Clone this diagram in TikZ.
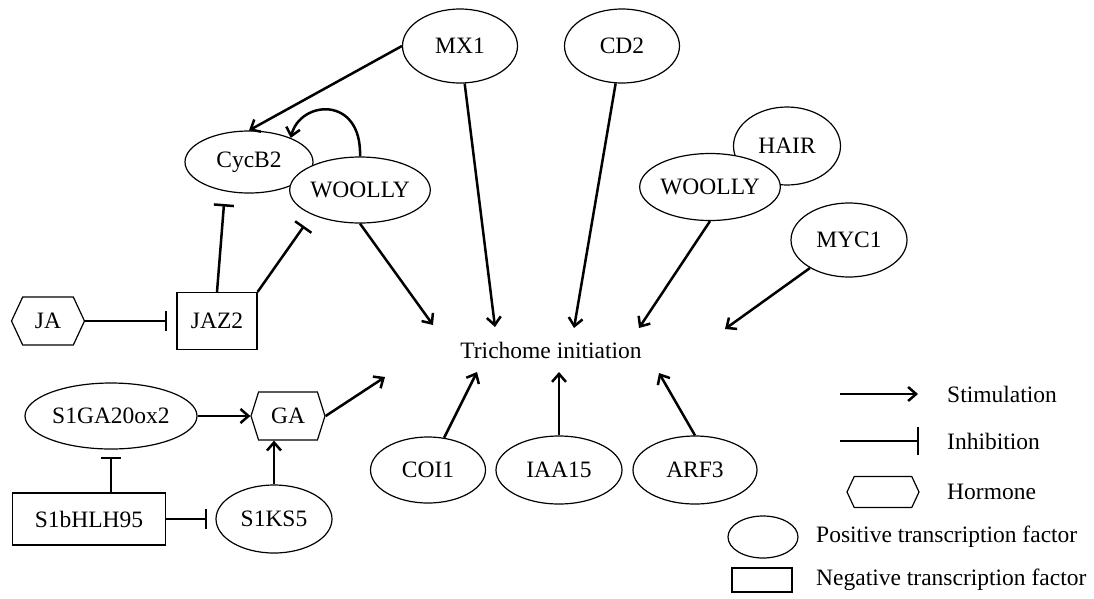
\documentclass[tikz,border=0pt]{standalone}
\usepackage{fontspec}
\setmainfont{Liberation Serif}
\usetikzlibrary{shapes.geometric,shapes.symbols,arrows.meta}
\begin{document}
\begin{tikzpicture}[x=1pt,y=-1pt,
  every node/.style={font=\fontsize{23.5}{27}\selectfont, inner sep=0pt},
  tf/.style={ellipse, draw, line width=1.2pt, fill=white},
  neg/.style={rectangle, draw, line width=1.2pt, fill=white},
  horm/.style={signal, signal to=east and west, signal pointer angle=130, draw, line width=1.2pt, fill=white},
  stim/.style={line width=2.5pt, -{Straight Barb[length=8pt,width=14pt]}},
  inh/.style={line width=2.5pt, -{Bar[width=20pt,line width=2.5pt]}},
  lbl/.style={anchor=west},
]
\path[fill=white] (0,0) rectangle (1094,598);
\useasboundingbox (0,0) rectangle (1094,598);

% nodes
\node[tf, minimum width=115pt, minimum height=74pt] (mx1) at (460,46) {MX1};
\node[tf, minimum width=115pt, minimum height=74pt] (cd2) at (622,46) {CD2};
\node[tf, minimum width=128pt, minimum height=62pt] (cyc) at (249,162) {CycB2};
\node[tf, minimum width=140pt, minimum height=66pt] (wl) at (360,190) {WOOLLY};
\node[tf, minimum width=107pt, minimum height=78pt] (hair) at (787,146) {HAIR};
\node[tf, minimum width=140pt, minimum height=67pt] (wr) at (710,187) {WOOLLY};
\node[tf, minimum width=116pt, minimum height=74pt] (myc1) at (849,240) {MYC1};
\node[horm, minimum width=73pt, minimum height=48pt] (ja) at (48,321) {JA};
\node[neg, minimum width=80pt, minimum height=57pt] (jaz2) at (217,321) {JAZ2};
\node[tf, minimum width=172pt, minimum height=66pt] (ga20) at (111,416) {S1GA20ox2};
\node[horm, signal pointer angle=145, minimum width=74pt, minimum height=48pt] (ga) at (288,416) {GA};
\node[neg, minimum width=153pt, minimum height=52pt] (hlh) at (89,519) {S1bHLH95};
\node[tf, minimum width=116pt, minimum height=68pt] (ks5) at (274,519) {S1KS5};
\node[tf, minimum width=115pt, minimum height=66pt] (coi1) at (428,470) {COI1};
\node[tf, minimum width=126pt, minimum height=68pt] (iaa15) at (559,470) {IAA15};
\node[tf, minimum width=124pt, minimum height=68pt] (arf3) at (695,470) {ARF3};
\node (tri) at (551,350) {Trichome initiation};

% free ends
\coordinate (twl) at (433,325);
\coordinate (tmx1) at (495,327);
\coordinate (tcd2) at (574,328);
\coordinate (twr) at (639,328);
\coordinate (tmyc1) at (725,329);
\coordinate (tga) at (385,377);
\coordinate (tcoi1) at (477,372);
\coordinate (tiaa) at (559,372);
\coordinate (tarf) at (659,373);
\coordinate (bcyc) at (224,204);
\coordinate (bwl) at (304,226);

% connectors
\draw[stim] (mx1.west) -- (cyc.north);
\draw[stim] (wl.north) .. controls (362,95) and (300,100) .. (cyc.30);
\draw[stim] (mx1) -- (tmx1);
\draw[stim] (cd2) -- (tcd2);
\draw[stim] (wl.south) -- (twl);
\draw[stim] (wr.south) -- (twr);
\draw[stim] (myc1) -- (tmyc1);
\draw[inh] (jaz2.north) -- (bcyc);
\draw[inh] (jaz2.north east) -- (bwl);
\draw[inh, shorten >=9pt] (ja.east) -- (jaz2.west);
\draw[stim] (ga20.east) -- (ga.west);
\draw[stim] (ga.east) -- (tga);
\draw[stim] (ks5.north) -- (ks5.north |- ga.south);
\draw[inh, shorten >=8pt] (hlh.east) -- (ks5.west);
\draw[inh, shorten >=7pt] (hlh.north -| ga20.south) -- (ga20.south);
\draw[stim] (coi1) -- (tcoi1);
\draw[stim] (iaa15.north) -- (tiaa);
\draw[stim] (arf3.north) -- (tarf);

% legend
\coordinate (ls1) at (840,394);
\coordinate (ls2) at (918,394);
\coordinate (li1) at (840,441);
\coordinate (li2) at (919,441);
\draw[stim] (ls1) -- (ls2);
\draw[line width=2.5pt, -{Bar[width=28pt,line width=2.5pt]}] (li1) -- (li2);
\node[lbl] (lstim) at (947,394) {Stimulation};
\node[lbl] (linh) at (947,441) {Inhibition};
\node[horm, minimum width=72pt, minimum height=31pt] (lhorm) at (883,492) {};
\node[lbl] (lhormt) at (947,492) {Hormone};
\node[tf, minimum width=70pt, minimum height=42pt] (lpos) at (763,537) {};
\node[lbl] (lpost) at (816,537) {Positive transcription factor};
\node[neg, minimum width=60pt, minimum height=24pt] (lneg) at (762,580) {};
\node[lbl] (lnegt) at (816,580) {Negative transcription factor};
\end{tikzpicture}
\end{document}
